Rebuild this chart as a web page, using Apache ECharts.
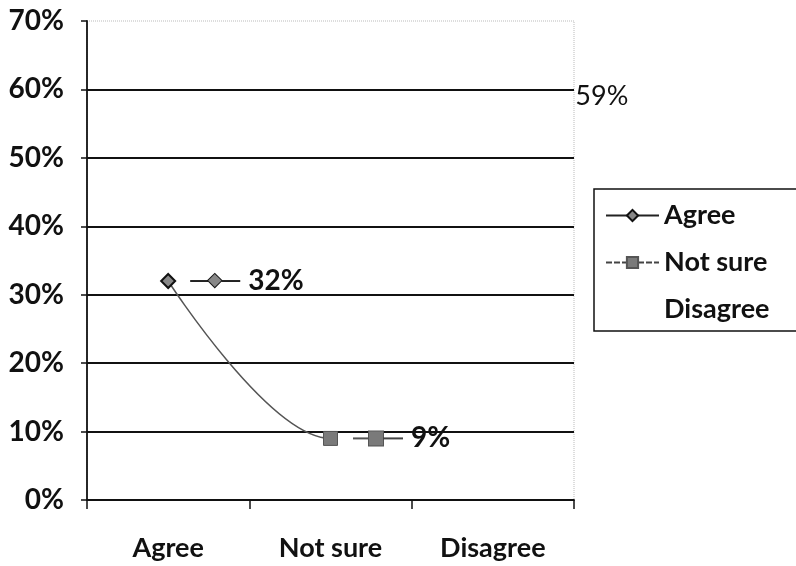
<!DOCTYPE html>
<html>
<head>
<meta charset="utf-8">
<script src="https://cdn.jsdelivr.net/npm/echarts@6/dist/echarts.min.js"></script>
<style>
  html, body { margin: 0; padding: 0; background: #fff; }
  #chart { width: 796px; height: 566px; }
</style>
</head>
<body>
<div id="chart"></div>
<script>
// Survey responses, in percent
const categories = ['Agree', 'Not sure', 'Disagree'];
const agreeValues = [32, null, null];
const notSureValues = [null, 9, null];
const disagreeValues = [null, null, 59];
// Smoothed trend through all three answers; only the first segment is shown
const trendValues = [32, 9, 59];
const yTicks = [0, 10, 20, 30, 40, 50, 60, 70];

const FONT = 'Lato, "Open Sans", sans-serif';

const chart = echarts.init(document.getElementById('chart'), null, { renderer: 'canvas' });

// Label pieces that repeat the legend key in front of the value
const keyRich = {
  lnA: { width: 18, height: 2, backgroundColor: '#222' },
  lnB: { width: 19, height: 2, backgroundColor: '#222' },
  lnC: { width: 16, height: 2, backgroundColor: '#555' },
  lnD: { width: 20, height: 2, backgroundColor: '#444' },
  dia: { fontSize: 17, color: '#888', fontFamily: 'DejaVu Sans', textBorderColor: '#111', textBorderWidth: 2 },
  sq: { width: 14, height: 14, backgroundColor: '#7a7a7a', borderColor: '#555', borderWidth: 1 },
  v: { fontSize: 28, fontWeight: 'bold', color: '#111', fontFamily: FONT, padding: [0, 0, 0, 8] }
};

// Trend stroke fades out after the middle category (bounding-box relative gradient)
const trendColor = new echarts.graphic.LinearGradient(0, 0, 1, 0, [
  { offset: 0, color: '#555' },
  { offset: 0.5, color: '#555' },
  { offset: 0.5, color: 'rgba(0,0,0,0)' },
  { offset: 1, color: 'rgba(0,0,0,0)' }
]);

chart.setOption({
  animation: false,
  backgroundColor: '#fff',
  grid: {
    left: 87, right: 222, top: 21, bottom: 66,
    show: true, borderColor: '#bbb', borderWidth: 1, borderType: 'dotted'
  },
  legend: {
    orient: 'vertical',
    left: 594, top: 189,
    padding: [13, 60, 8, 11],
    itemGap: 20,
    itemWidth: 53, itemHeight: 14,
    borderColor: '#111', borderWidth: 1.5,
    textStyle: { fontFamily: FONT, fontSize: 27, fontWeight: 'bold', color: '#111' },
    data: categories
  },
  xAxis: {
    type: 'category',
    data: categories,
    boundaryGap: true,
    axisLine: { lineStyle: { color: '#111', width: 1.8 } },
    axisTick: { show: true, length: 9, lineStyle: { color: '#111', width: 1.5 } },
    axisLabel: { margin: 35, fontFamily: FONT, fontSize: 27, fontWeight: 'bold', color: '#111' }
  },
  yAxis: {
    type: 'value',
    min: yTicks[0], max: yTicks[yTicks.length - 1], interval: 10,
    axisLine: { show: true, lineStyle: { color: '#111', width: 1.8 } },
    axisTick: { show: true, length: 6, lineStyle: { color: '#111', width: 1.5 } },
    splitLine: { showMaxLine: false, lineStyle: { color: '#111', width: 1.8 } },
    axisLabel: { margin: 23, formatter: '{value}%', fontFamily: FONT, fontSize: 28, fontWeight: 'bold', color: '#111' }
  },
  series: [
    {
      name: 'trend',
      type: 'line',
      data: trendValues,
      smooth: 0.5,
      showSymbol: false,
      lineStyle: { width: 1.5, color: trendColor },
      silent: true,
      z: 1
    },
    {
      name: 'Agree',
      type: 'line',
      data: agreeValues,
      symbol: 'diamond',
      symbolSize: 14,
      itemStyle: { color: '#888', borderColor: '#111', borderWidth: 2 },
      lineStyle: { color: '#222', width: 1.5 },
      label: {
        show: true,
        position: 'right',
        distance: 14,
        formatter: p => '{lnA| }{dia|◆}{lnB| }{v|' + p.value + '%}',
        rich: keyRich
      },
      z: 3
    },
    {
      name: 'Not sure',
      type: 'line',
      data: notSureValues,
      symbol: 'rect',
      symbolSize: 14,
      itemStyle: { color: '#7a7a7a', borderColor: '#555', borderWidth: 1 },
      lineStyle: { color: '#444', width: 1.5, type: [6, 2] },
      label: {
        show: true,
        position: 'right',
        distance: 15,
        formatter: p => '{lnC| }{sq| }{lnD| }{v|' + p.value + '%}',
        rich: keyRich
      },
      z: 3
    },
    {
      name: 'Disagree',
      type: 'line',
      data: disagreeValues,
      symbol: 'circle',
      symbolSize: 1,
      itemStyle: { color: 'rgba(0,0,0,0)', borderWidth: 0 },
      lineStyle: { opacity: 0 },
      label: {
        show: true,
        position: 'right',
        distance: 82,
        formatter: p => p.value + '%',
        fontFamily: FONT, fontSize: 27, color: '#111'
      },
      z: 3
    }
  ]
});
</script>
</body>
</html>
